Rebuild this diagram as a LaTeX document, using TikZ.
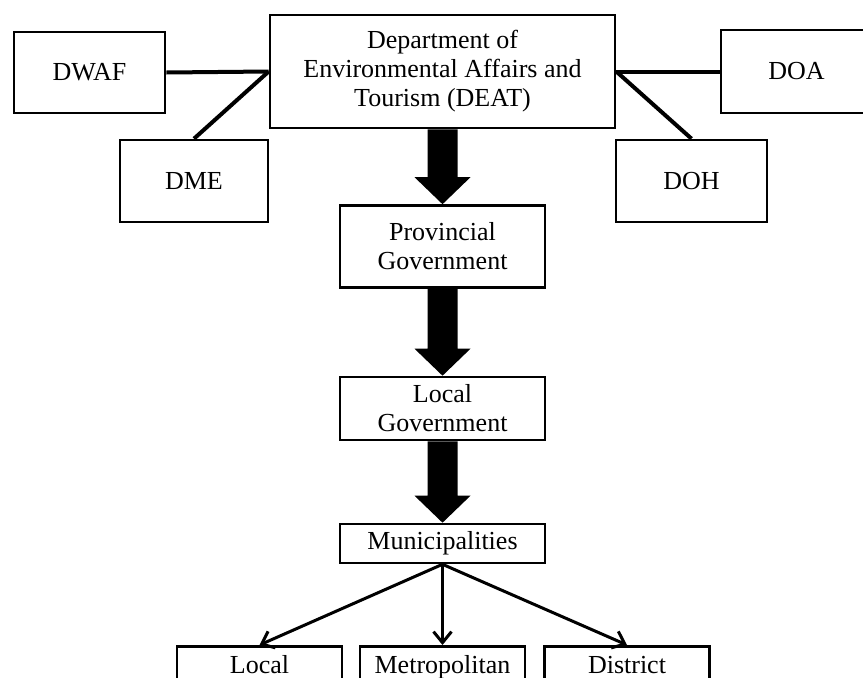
\documentclass[tikz,border=0pt]{standalone}
\usepackage{fontspec}
\setmainfont{Liberation Serif}
\usetikzlibrary{arrows.meta,calc}
\tikzset{
  box/.style={draw=black, line width=2.6pt, fill=white, align=center, inner sep=0pt,
    font=\fontsize{26}{29}\selectfont},
  bottombox/.style={box, anchor=north, minimum width=165pt, inner ysep=8pt, text height=19pt, text depth=40pt},
  link/.style={draw=black, line width=4pt},
  thin arrow/.style={draw=black, line width=3pt, -{Straight Barb[length=11pt,width=18pt,line width=3pt]}},
  bigarrow/.style={fill=black}
}
\newcommand{\mybigarrow}[2]{%
  \fill[bigarrow] ($(#1.south)+(-15,0)$) -- ($(#2.north)+(-15,-27)$) -- ($(#2.north)+(-28,-27)$)
    -- (#2.north) -- ($(#2.north)+(28,-27)$) -- ($(#2.north)+(15,-27)$) -- ($(#1.south)+(15,0)$) -- cycle;}
\begin{document}
\begin{tikzpicture}[x=1pt,y=-1pt]
\useasboundingbox (0,0) rectangle (863,678);
\clip (0,0) rectangle (863,678);
% top row
\node[box, minimum width=151pt, minimum height=81pt] (dwaf) at (89.5,72.5) {DWAF};
\node[box, minimum width=345pt, minimum height=113pt] (deat) at (442.5,71.5)
  {Department of\\Environmental Affairs and\\Tourism (DEAT)};
\node[box, minimum width=151pt, minimum height=83pt] (doa) at (796.5,71.5) {DOA};
\node[box, minimum width=148pt, minimum height=82pt] (dme) at (194,181) {DME};
\node[box, minimum width=151pt, minimum height=82pt] (doh) at (691.5,181) {DOH};
% chain
\node[box, minimum width=205pt, minimum height=82pt] (prov) at (442.5,246.5) {Provincial\\Government};
\node[box, minimum width=205pt, minimum height=63pt] (lgov) at (442.5,408.5) {Local\\Government};
\node[box, minimum width=205pt, minimum height=39pt] (muni) at (442.5,543.5) {Municipalities};
% bottom row (boxes run past the page edge)
\node[bottombox] (loc) at (259.5,645) {Local};
\node[bottombox] (met) at (442.5,645) {Metropolitan};
\node[bottombox] (dis) at (627,645) {District};
% links
\draw[link] (dwaf.east) -- (deat.west);
\draw[link] (dme.north) -- (deat.west);
\draw[link] (deat.east) -- (doa.west);
\draw[link] (deat.east) -- (doh.north);
% big arrows
\mybigarrow{deat}{prov}
\mybigarrow{prov}{lgov}
\mybigarrow{lgov}{muni}
% thin arrows
\draw[thin arrow] (muni.south) -- (loc.north);
\draw[thin arrow] (muni.south) -- (met.north);
\draw[thin arrow] (muni.south) -- (dis.north);
\end{tikzpicture}
\end{document}
